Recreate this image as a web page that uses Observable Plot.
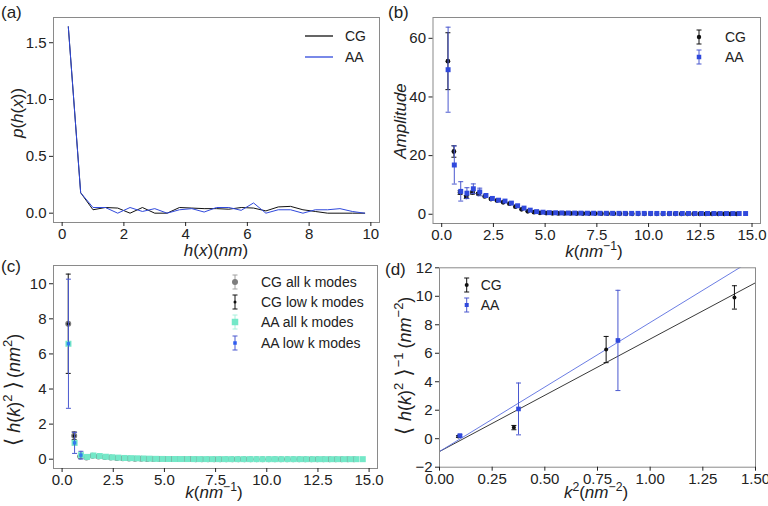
<!DOCTYPE html>
<html><head><meta charset="utf-8">
<script src="https://cdn.jsdelivr.net/npm/d3@7"></script>
<script src="https://cdn.jsdelivr.net/npm/@observablehq/plot@0.6"></script>
<style>
body{margin:0;background:#fff;}
#fig{position:relative;width:768px;height:506px;overflow:hidden;background:#fff;}
#fig svg{position:absolute;overflow:visible;}
</style></head><body><div id="fig"></div>
<script>
// ---------- data ----------
// (a) height distribution
const hx  = [0.2,0.6,1.0,1.4,1.8,2.2,2.6,3.0,3.4,3.8,4.2,4.6,5.0,5.4,5.8,6.2,6.6,7.0,7.4,7.8,8.2,8.6,9.0,9.4,9.8];
const pCG = [1.64,0.18,0.03,0.05,0.045,0.0,0.05,0.0,0.0,0.05,0.045,0.04,0.04,0.035,0.05,0.045,0.02,0.055,0.06,0.03,0.015,0.0,0.0,0.0,0.0];
const pAA = [1.64,0.18,0.05,0.05,0.0,0.05,0.015,0.04,0.0,0.03,0.04,0.01,0.05,0.05,0.025,0.09,0.0,0.03,0.03,0.0,0.03,0.03,0.04,0.015,0.0];
// wave numbers
const kCG = [0.30,0.59,0.89,1.19,1.49,1.78,2.08,2.38,2.67,2.97,3.27,3.56,3.86,4.16,4.46,4.75,5.05,5.35,5.64,5.94,6.24,6.53,6.83,7.13,7.43,7.72,8.02,8.32,8.61,8.91,9.21,9.50,9.80,10.10,10.40,10.69,10.99,11.29,11.58,11.88,12.18,12.47,12.77,13.07,13.37,13.66,13.96,14.26];
const kAA = [0.31,0.61,0.92,1.22,1.53,1.84,2.14,2.45,2.75,3.06,3.37,3.67,3.98,4.28,4.59,4.90,5.20,5.51,5.81,6.12,6.43,6.73,7.04,7.34,7.65,7.96,8.26,8.57,8.87,9.18,9.49,9.79,10.10,10.40,10.71,11.02,11.32,11.63,11.93,12.24,12.55,12.85,13.16,13.46,13.77,14.08,14.38,14.69];
// (b) amplitudes
const ampCG = [52.2,21.4,7.4,5.9,7.4,7.0,6.1,5.2,4.7,4.1,3.6,2.6,1.7,1.0,0.7,0.5,0.4,0.35,0.3,0.3,0.28,0.26,0.25,0.24,0.22,0.2,0.2,0.19,0.18,0.17,0.16,0.15,0.15,0.14,0.14,0.13,0.13,0.12,0.12,0.12,0.11,0.11,0.11,0.1,0.1,0.1,0.1,0.1];
const ampAA = [49.3,16.8,7.8,7.2,8.7,7.6,6.4,5.4,4.8,4.5,3.8,2.9,2.1,1.4,0.9,0.7,0.55,0.5,0.45,0.42,0.4,0.38,0.36,0.35,0.34,0.33,0.32,0.31,0.3,0.3,0.3,0.29,0.29,0.28,0.28,0.28,0.27,0.27,0.27,0.26,0.26,0.26,0.26,0.25,0.25,0.25,0.25,0.25];
const ampErrCG = [9.7,1.95,0.6,0.5,0.5,0.4];
const ampErrAA = [14.5,6.5,3.3,1.85,1.65,1.3];
// (c) <h(k)^2>
const h2CG = [7.72,1.33,0.16,0.10,0.19,0.16,0.12,0.09,0.07,0.05,0.04,0.03,0.02,0.015,0.01,0.01,0.008,0.007,0.006,0.005,0.005,0.004,0.004,0.004,0.003,0.003,0.003,0.003,0.003,0.003,0.002,0.002,0.002,0.002,0.002,0.002,0.002,0.002,0.002,0.002,0.002,0.002,0.002,0.002,0.002,0.002,0.002,0.002];
const h2AA = [6.58,0.93,0.23,0.13,0.21,0.18,0.14,0.11,0.09,0.07,0.06,0.05,0.04,0.03,0.02,0.015,0.012,0.01,0.009,0.008,0.007,0.006,0.006,0.005,0.005,0.005,0.004,0.004,0.004,0.004,0.003,0.003,0.003,0.003,0.003,0.003,0.003,0.003,0.002,0.002,0.002,0.002,0.002,0.002,0.002,0.002,0.002,0.002];
const lowKCG = [0.30,0.59,0.89,1.19], lowCG = [7.72,1.33,0.16,0.10], lowErrCG = [2.83,0.22,0.03,0.02];
const lowKAA = [0.31,0.61,0.92],      lowAA = [6.58,0.93,0.23],      lowErrAA = [3.68,0.6,0.22];
// (d) inverse spectrum vs k^2
const k2CG = [0.09,0.353,0.791,1.40], invCG = [0.15,0.78,6.26,9.92], invErrCG = [0.06,0.15,0.92,0.82];
const k2AA = [0.097,0.375,0.847],     invAA = [0.22,2.09,6.9],        invErrAA = [0.06,1.82,3.52];
const fitSlope = [7.9, 9.06], fitIntercept = [-0.9, -0.9]; // CG, AA

// ---------- style ----------
const FONT = '"Liberation Sans", Arial, "DejaVu Sans", sans-serif';
const BLUE = "#3049dc", BLUE_BAR = "#4a58cf", AQUA = "#74e8c8", GREY = "#7d7d7d", INK = "#222";
const cap = {draw(ctx, size){ const r = Math.sqrt(size/Math.PI); ctx.moveTo(-r,0); ctx.lineTo(r,0); }};
const f1 = d3.format(".1f"), f2 = d3.format(".2f");
const fInt = d => d < 0 ? "\u2212" + (-d) : String(d);

function rows(k, v, e){ return k.map((x,i)=>({k:x, v:v[i], lo: e ? v[i]-e[i] : v[i], hi: e ? v[i]+e[i] : v[i]})); }
function errMarks(data, color, capR, w=1){
  return [
    Plot.ruleX(data, {x:"k", y1:"lo", y2:"hi", stroke:color, strokeWidth:w}),
    Plot.dot(data, {x:"k", y:"hi", symbol:cap, r:capR, stroke:color, fill:"none", strokeWidth:w}),
    Plot.dot(data, {x:"k", y:"lo", symbol:cap, r:capR, stroke:color, fill:"none", strokeWidth:w})
  ];
}
function panel(o){
  const svg = Plot.plot({
    width:384, height:253,
    marginLeft:o.ml, marginRight:o.mr, marginTop:o.mt, marginBottom:o.mb,
    style:{fontSize:"15px", fontFamily:FONT, color:INK, background:"none", overflow:"visible"},
    x:{domain:o.xd, label:null},
    y:{domain:o.yd, label:null},
    marks:[
      ...o.marks,
      Plot.frame({stroke:"#8a8a8a", strokeWidth:1}),
      Plot.axisX(o.xt, {tickFormat:o.xf, tickSize:4, tickPadding:2, label:null}),
      Plot.axisY(o.yt, {tickFormat:o.yf, tickSize:4, tickPadding:3, label:null})
    ]
  });
  svg.style.left = o.left + "px"; svg.style.top = o.top + "px";
  document.getElementById("fig").appendChild(svg);
  return svg;
}
// segments: [text, style]; style "i" italic, "sup" superscript, "br" bracket, "gap" (text = px)
function rich(svg, segs, x, y, {size=17, rotate=false} = {}){
  const t = d3.select(svg).append("text")
    .attr("font-size", size).attr("fill", INK).attr("text-anchor", "middle").attr("font-family", FONT);
  if (rotate) t.attr("transform", `translate(${x},${y}) rotate(-90)`); else t.attr("x", x).attr("y", y);
  let shift = 0, pend = 0;
  for (const [s, st] of segs){
    if (st === "gap"){ pend += s; continue; }
    const sp = t.append("tspan").text(s);
    const target = st === "sup" ? -size*0.42 : 0;
    if (target !== shift){ sp.attr("dy", target - shift); shift = target; }
    if (pend){ sp.attr("dx", pend); pend = 0; }
    if (st === "i") sp.attr("font-style", "italic");
    if (st === "sup") sp.attr("font-size", size*0.72);
    if (st === "br") sp.attr("font-family", '"DejaVu Sans", sans-serif').attr("font-size", size*1.2);
  }
}
function legText(svg, s, x, y, size=14){
  d3.select(svg).append("text").attr("x", x).attr("y", y).attr("dy", "0.35em").attr("text-anchor", "start")
    .attr("font-size", size).attr("font-family", FONT).attr("fill", INK).text(s);
}
function legErr(svg, x, y, barColor, halfLen, capW, marker){
  const g = d3.select(svg).append("g");
  g.append("line").attr("x1",x).attr("x2",x).attr("y1",y-halfLen).attr("y2",y+halfLen).attr("stroke",barColor);
  for (const yy of [y-halfLen, y+halfLen]) g.append("line").attr("x1",x-capW).attr("x2",x+capW).attr("y1",yy).attr("y2",yy).attr("stroke",barColor);
  if (marker.type === "circle") g.append("circle").attr("cx",x).attr("cy",y).attr("r",marker.r).attr("fill",marker.color);
  else g.append("rect").attr("x",x-marker.s/2).attr("y",y-marker.s/2).attr("width",marker.s).attr("height",marker.s).attr("fill",marker.color);
}
function label(svg, s, x, y){
  d3.select(svg).append("text").attr("x",x).attr("y",y).attr("text-anchor","start")
    .attr("font-size",17).attr("font-family",FONT).attr("fill",INK).text(s);
}

// ---------- (a) ----------
const A = panel({
  left:0, top:0, ml:53, mr:5, mt:17, mb:31,
  xd:[-0.28,10.28], yd:[-0.082,1.722],
  xt:[0,2,4,6,8,10], xf:d=>String(d), yt:[0,0.5,1,1.5], yf:f1,
  marks:[
    Plot.line(hx, {x:d=>d, y:pCG, stroke:"#111", strokeWidth:1}),
    Plot.line(hx, {x:d=>d, y:pAA, stroke:BLUE, strokeWidth:1})
  ]
});
rich(A, [["p","i"],["(",""],["h","i"],["(",""],["x","i"],["))",""]], 23, 113, {rotate:true});
rich(A, [["h","i"],["(",""],["x","i"],[")(",""],["nm","i"],[")",""]], 216, 256);
label(A, "(a)", 1, 18);
d3.select(A).append("line").attr("x1",305).attr("x2",333).attr("y1",36).attr("y2",36).attr("stroke","#111").attr("stroke-width",1.3);
d3.select(A).append("line").attr("x1",305).attr("x2",333).attr("y1",57).attr("y2",57).attr("stroke",BLUE).attr("stroke-width",1.3);
legText(A, "CG", 345, 36); legText(A, "AA", 345, 57);

// ---------- (b) ----------
const bCG = rows(kCG, ampCG), bAA = rows(kAA, ampAA);
const bErrCG = rows(kCG.slice(0,6), ampCG.slice(0,6), ampErrCG);
const bErrAA = rows(kAA.slice(0,6), ampAA.slice(0,6), ampErrAA);
const B = panel({
  left:384, top:0, ml:48.5, mr:8, mt:17, mb:30,
  xd:[-0.42,15.41], yd:[-3.15,67.1],
  xt:[0,2.5,5,7.5,10,12.5,15], xf:f1, yt:[0,20,40,60], yf:d=>String(d),
  marks:[
    ...errMarks(bErrCG, "#111", 2.5),
    Plot.dot(bCG, {x:"k", y:"v", r:2.4, fill:"#111"}),
    ...errMarks(bErrAA, BLUE_BAR, 2.5),
    Plot.dot(bAA, {x:"k", y:"v", symbol:"square", r:2.8, fill:BLUE})
  ]
});
rich(B, [["Amplitude","i"]], 22, 121, {rotate:true});
rich(B, [["k","i"],["(",""],["nm","i"],["\u22121","sup"],[")",""]], 210, 257);
label(B, "(b)", 4, 18);
legErr(B, 315, 37, "#111", 7, 2.5, {type:"circle", r:2.2, color:"#111"});
legErr(B, 315, 57, BLUE_BAR, 7, 2.5, {type:"rect", s:4.5, color:BLUE});
legText(B, "CG", 341, 37); legText(B, "AA", 341, 57);

// ---------- (c) ----------
const C = panel({
  left:0, top:253, ml:53, mr:7, mt:12, mb:38,
  xd:[-0.42,15.41], yd:[-0.53,11.04],
  xt:[0,2.5,5,7.5,10,12.5,15], xf:f1, yt:[0,2,4,6,8,10], yf:d=>String(d),
  marks:[
    Plot.dot(rows(kCG, h2CG), {x:"k", y:"v", r:3, fill:GREY}),
    ...errMarks(rows(lowKCG, lowCG, lowErrCG), "#111", 2.5),
    Plot.dot(rows(lowKCG, lowCG), {x:"k", y:"v", r:1.6, fill:"#111"}),
    Plot.dot(rows(kAA, h2AA), {x:"k", y:"v", symbol:"square", r:3.4, fill:AQUA}),
    ...errMarks(rows(lowKAA, lowAA, lowErrAA), BLUE_BAR, 2.5),
    Plot.dot(rows(lowKAA, lowAA), {x:"k", y:"v", symbol:"square", r:1.9, fill:"#2f7cf0"})
  ]
});
rich(C, [["\u27E8","br"],[5,"gap"],["h","i"],["(",""],["k","i"],[")",""],["2","sup"],[5,"gap"],["\u27E9","br"],[3,"gap"],["(",""],["nm","i"],["2","sup"],[")",""]], 20, 137, {rotate:true, size:18});
rich(C, [["k","i"],["(",""],["nm","i"],["\u22121","sup"],[")",""]], 214, 245);
label(C, "(c)", 1, 19);
legErr(C, 235, 29, "#a0a0a0", 7, 2.5, {type:"circle", r:3, color:GREY});
legErr(C, 235, 49, "#111", 7, 2.5, {type:"circle", r:1.5, color:"#111"});
legErr(C, 235, 69, "#a8f0dc", 7, 2.5, {type:"rect", s:6.5, color:AQUA});
legErr(C, 235, 90, BLUE_BAR, 7, 2.5, {type:"rect", s:3.5, color:"#2f5cf0"});
legText(C, "CG all k modes", 261, 29); legText(C, "CG low k modes", 261, 49);
legText(C, "AA all k modes", 261, 69); legText(C, "AA low k modes", 261, 90);

// ---------- (d) ----------
const xdD = [0, 1.5];
const fitCG = xdD.map(x => ({k:x, v:fitIntercept[0] + fitSlope[0]*x}));
const fitAA = xdD.map(x => ({k:x, v:fitIntercept[1] + fitSlope[1]*x}));
const D = panel({
  left:384, top:253, ml:55, mr:13, mt:14.3, mb:39.3,
  xd:xdD, yd:[-2,12],
  xt:[0,0.25,0.5,0.75,1,1.25,1.5], xf:f2, yt:[-2,0,2,4,6,8,10,12], yf:fInt,
  marks:[
    Plot.line(fitCG, {x:"k", y:"v", stroke:"#222", strokeWidth:0.9, clip:true}),
    Plot.line(fitAA, {x:"k", y:"v", stroke:"#5a6ee0", strokeWidth:0.9, clip:true}),
    ...errMarks(rows(k2CG, invCG, invErrCG), "#111", 2.5),
    Plot.dot(rows(k2CG, invCG), {x:"k", y:"v", r:2, fill:"#111"}),
    ...errMarks(rows(k2AA, invAA, invErrAA), BLUE_BAR, 2.5),
    Plot.dot(rows(k2AA, invAA), {x:"k", y:"v", symbol:"square", r:2.6, fill:BLUE})
  ]
});
rich(D, [["\u27E8","br"],[6,"gap"],["h","i"],["(",""],["k","i"],[")",""],["2","sup"],[6,"gap"],["\u27E9","br"],[1,"gap"],["\u22121","sup"],[4,"gap"],["(",""],["nm","i"],["\u22122","sup"],[")",""]], 27, 113, {rotate:true, size:18});
rich(D, [["k","i"],["2","sup"],["(",""],["nm","i"],["\u22122","sup"],[")",""]], 212, 245);
label(D, "(d)", 1, 22);
legErr(D, 82.7, 32, "#111", 7, 2.5, {type:"circle", r:2, color:"#111"});
legErr(D, 82.7, 52, BLUE_BAR, 7, 2.5, {type:"rect", s:4, color:BLUE});
legText(D, "CG", 96.7, 32); legText(D, "AA", 96.7, 52);
</script>
</body></html>
